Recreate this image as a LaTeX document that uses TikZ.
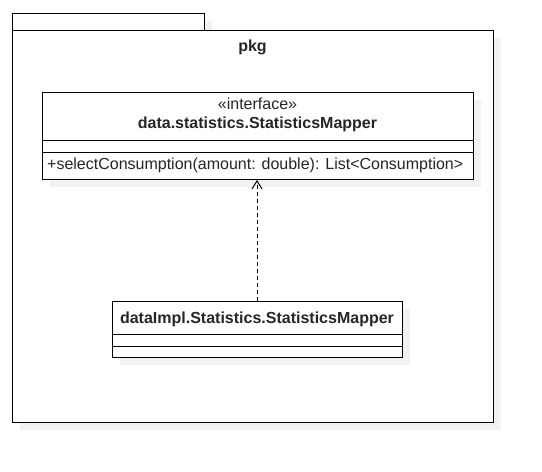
\documentclass[tikz,border=0pt]{standalone}
\usepackage{fontspec}
\setmainfont{Liberation Sans}
\usetikzlibrary{arrows.meta}
\begin{document}
\begin{tikzpicture}[x=1pt,y=-1pt,
  shadowfill/.style={fill=black!5,draw=none},
  boxline/.style={draw=black,line width=1pt},
  lbl/.style={font=\fontsize{16}{18}\selectfont,inner sep=0pt,anchor=center,text=black!85},
  realize/.style={draw=black,line width=1pt,dashed,dash pattern=on 4pt off 3pt,-{Straight Barb[length=8pt,width=10pt,line width=1pt]}}]
\useasboundingbox (0,0) rectangle (542,472);
% shadows
\fill[shadowfill] (20,21) rectangle (212,38);
\fill[shadowfill] (20,38) rectangle (501,430);
\fill[white] (12,13) rectangle (204,30);
\fill[white] (12,30) rectangle (493,422);
% package
\draw[boxline] (12,13) rectangle (204,30);
\draw[boxline] (12,30) rectangle (493,422);
\node[lbl,font=\fontsize{16}{18}\selectfont\bfseries] (pkg) at (252.5,47) {pkg};
% interface box
\fill[shadowfill] (50,100) rectangle (481,187);
\node[draw=black,line width=1pt,fill=white,minimum width=431pt,minimum height=87pt,anchor=north west,inner sep=0pt] (iface) at (42,92) {};
\draw[boxline] (42,140) -- (473,140);
\draw[boxline] (42,152) -- (473,152);
\node[lbl] (stereo) at (257.5,104) {«interface»};
\node[lbl,font=\fontsize{16}{18}\selectfont\bfseries] (iname) at (257.5,124) {data.statistics.StatisticsMapper};
\node[lbl,anchor=west] (method) at (47,165) {+selectConsumption(amount: double): List<Consumption>};
% impl box
\fill[shadowfill] (120,309) rectangle (410,365);
\node[draw=black,line width=1pt,fill=white,minimum width=290pt,minimum height=56pt,anchor=north west,inner sep=0pt] (impl) at (112,301) {};
\draw[boxline] (112,334) -- (402,334);
\draw[boxline] (112,346) -- (402,346);
\node[lbl,font=\fontsize{16}{18}\selectfont\bfseries] (implname) at (257,319) {dataImpl.Statistics.StatisticsMapper};
% realization
\draw[realize] (impl.north -| 257,0) -- (iface.south -| 257,0);
\end{tikzpicture}
\end{document}
